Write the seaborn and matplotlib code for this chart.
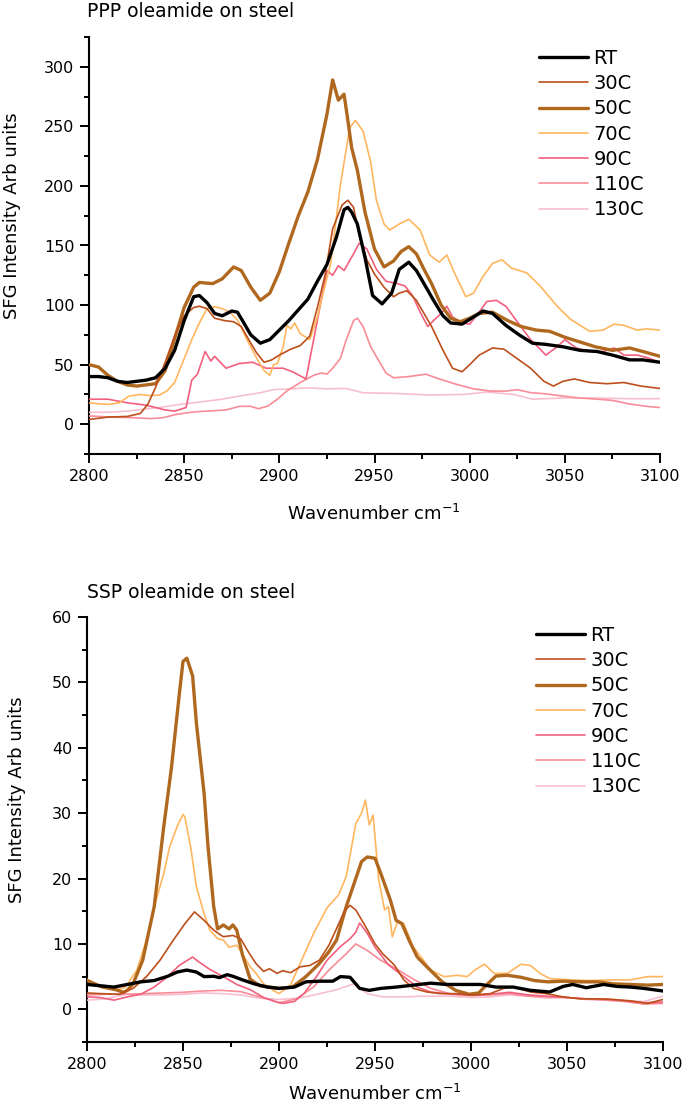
import matplotlib
matplotlib.use("Agg")
import matplotlib.pyplot as plt
import seaborn as sns
import pandas as pd
from matplotlib.ticker import MultipleLocator

sns.set_theme(style="ticks")
plt.rcParams['font.family'] = ['DejaVu Sans']

# ---------------- series meta ----------------
labels = ["RT", "30C", "50C", "70C", "90C", "110C", "130C"]

# ---------------- PPP data ----------------
ppp_rt_x = [2800, 2805, 2810, 2815, 2820, 2825, 2830, 2835, 2840, 2845, 2850, 2855, 2858, 2862, 2866, 2870, 2875, 2878,
            2881, 2885, 2890, 2895, 2900, 2905, 2910, 2915, 2920, 2925, 2930, 2934, 2936, 2938, 2941, 2945, 2949, 2954,
            2959, 2963, 2968, 2972, 2976, 2981, 2986, 2990, 2996, 3002, 3007, 3012, 3019, 3026, 3033, 3040, 3049, 3058,
            3067, 3075, 3084, 3091, 3100]
ppp_rt_y = [40, 40, 39, 36, 35, 36, 37, 39, 47, 62, 87, 107, 108, 102, 93, 91, 95, 94,
            86, 75, 68, 71, 79, 87, 96, 105, 120, 134, 157, 180, 182, 178, 168, 140, 108, 101,
            110, 130, 136, 129, 118, 104, 91, 85, 84, 90, 95, 93, 83, 75, 68, 67, 65, 62,
            61, 58, 54, 54, 52]

ppp_30_x = [2800, 2810, 2820, 2827, 2831, 2835, 2840, 2845, 2850, 2855, 2858, 2862, 2866, 2871, 2876, 2880, 2885, 2888,
            2892, 2896, 2900, 2906, 2911, 2916, 2920, 2924, 2928, 2933, 2936, 2939, 2942, 2946, 2950, 2955, 2960, 2963,
            2967, 2972, 2980, 2986, 2991, 2996, 3000, 3005, 3012, 3018, 3025, 3032, 3039, 3044, 3049, 3055, 3063, 3072,
            3081, 3090, 3100]
ppp_30_y = [4, 6, 6.5, 9, 17, 31, 52, 74, 91, 98, 99, 97, 89, 87, 86, 82, 68, 60,
            52, 54, 58, 63, 66, 74, 98, 125, 164, 184, 188, 182, 158, 138, 126, 115, 107, 110,
            112, 104, 82, 62, 47, 44, 50, 58, 64, 63, 55, 47, 36, 32, 36, 38, 35, 34,
            35, 32, 30]

ppp_50_x = [2800, 2805, 2810, 2815, 2820, 2825, 2830, 2835, 2840, 2845, 2850, 2855, 2858, 2865, 2870, 2876, 2880, 2885,
            2890, 2895, 2900, 2905, 2910, 2915, 2920, 2925, 2928, 2931, 2934, 2936, 2938, 2941, 2945, 2950, 2955, 2960,
            2964, 2968, 2972, 2976, 2980, 2985, 2990, 2995, 3000, 3005, 3012, 3020, 3027, 3035, 3042, 3050, 3058, 3066,
            3075, 3084, 3091, 3100]
ppp_50_y = [50, 48, 41, 36, 33, 32, 33, 34, 45, 72, 98, 115, 119, 118, 122, 132, 129, 115,
            104, 110, 128, 152, 175, 195, 222, 260, 289, 272, 277, 255, 232, 213, 178, 147, 132, 137,
            145, 149, 143, 130, 118, 100, 89, 86, 89, 93, 94, 87, 82, 79, 78, 73, 69, 65,
            62, 64, 61, 57]

ppp_70_x = [2800, 2806, 2811, 2816, 2821, 2827, 2832, 2837, 2841, 2845, 2849, 2854, 2858, 2862, 2866, 2870, 2874, 2878,
            2883, 2888, 2892, 2895, 2897, 2899, 2902, 2904, 2906, 2908, 2911, 2916, 2920, 2923, 2927, 2932, 2937, 2940,
            2944, 2948, 2951, 2955, 2958, 2963, 2968, 2974, 2979, 2984, 2988, 2992, 2998, 3002, 3007, 3012, 3017, 3022,
            3030, 3037, 3046, 3053, 3063, 3070, 3076, 3081, 3088, 3093, 3100]
ppp_70_y = [18, 17, 16.7, 18, 23.6, 25, 24, 24.4, 28, 35, 51, 71, 85, 97, 98.6, 97, 94, 87.5,
            71, 55.6, 45, 41, 50, 51, 65, 83, 80, 85, 76, 71, 90, 110, 135, 200, 249, 255,
            246, 220, 188, 168, 163, 168, 172, 163, 142, 136, 142, 127, 107, 110, 124, 135, 138, 131,
            127, 116, 99, 88, 78, 79, 84, 83, 79, 80, 79]

ppp_90_x = [2800, 2810, 2820, 2830, 2840, 2845, 2851, 2854, 2857, 2861, 2864, 2866, 2872, 2879, 2886, 2893, 2902, 2907,
            2914, 2919, 2925, 2928, 2931, 2934, 2939, 2942, 2946, 2951, 2956, 2962, 2966, 2970, 2974, 2978, 2981, 2985,
            2988, 2991, 2996, 3000, 3004, 3009, 3014, 3019, 3025, 3032, 3037, 3040, 3046, 3050, 3056, 3063, 3070, 3076,
            3081, 3088, 3093, 3100]
ppp_90_y = [21, 21, 18, 16, 12, 11, 14, 37, 42, 61, 53, 57, 47, 51, 52, 47, 47, 44,
            38, 79, 129, 125, 133, 129, 143, 152, 147, 130, 120, 118, 116, 108, 94, 82, 87, 93,
            99, 90, 85, 84, 92, 103, 104, 99, 86, 71, 63, 58, 65, 71, 64, 61, 61, 64,
            58, 58, 56, 52]

ppp_110_x = [2800, 2811, 2823, 2832, 2839, 2846, 2855, 2862, 2872, 2879, 2885, 2889, 2894, 2899, 2904, 2911, 2918, 2922,
             2925, 2928, 2932, 2935, 2939, 2941, 2944, 2948, 2952, 2956, 2960, 2968, 2977, 2984, 2993, 3002, 3011, 3019,
             3025, 3032, 3040, 3049, 3058, 3067, 3075, 3084, 3093, 3100]
ppp_110_y = [7, 6, 5.5, 4.7, 5.5, 8.3, 10.3, 11, 12, 15, 15, 13, 15.3, 21, 28, 35, 41, 43,
             42, 47, 55, 70, 87, 89, 82, 65, 54, 43, 39, 40, 42, 38, 33.5, 29.7, 27.8, 27.8,
             29, 26.5, 25.5, 23.6, 22, 21, 20, 17, 15, 14]

ppp_130_x = [2800, 2810, 2820, 2828, 2837, 2848, 2858, 2869, 2879, 2890, 2897, 2906, 2915, 2925, 2935, 2944, 2962, 2979,
             2997, 3009, 3023, 3033, 3049, 3067, 3084, 3100]
ppp_130_y = [10, 10, 11, 12.5, 14, 16.7, 18.6, 20.8, 23.6, 26.4, 29, 29.7, 30.5, 29.7, 30, 26.4, 25.8, 24.5,
             25, 27, 25, 21, 22, 22, 21.4, 21.4]

# ---------------- SSP data ----------------
ssp_rt_x = [2800, 2807, 2814, 2821, 2828, 2835, 2842, 2847, 2852, 2857, 2861, 2866, 2869, 2873, 2876, 2881, 2887, 2894,
            2900, 2908, 2914, 2921, 2928, 2932, 2937, 2942, 2947, 2953, 2961, 2970, 2979, 2987, 2996, 3005, 3013, 3022,
            3031, 3041, 3048, 3053, 3060, 3069, 3076, 3083, 3090, 3100]
ssp_rt_y = [3.8, 3.6, 3.4, 3.8, 4.2, 4.4, 5.05, 5.7, 6, 5.7, 5, 5.05, 4.85, 5.3, 5.05, 4.5, 3.9, 3.4,
            3.2, 3.4, 4.2, 4.3, 4.3, 5, 4.9, 3.2, 2.9, 3.2, 3.4, 3.7, 4, 3.8, 3.8, 3.8, 3.4, 3.4,
            2.9, 2.65, 3.5, 3.8, 3.3, 3.8, 3.5, 3.4, 3.2, 2.8]

ssp_30_x = [2800, 2807, 2817, 2824, 2831, 2838, 2845, 2851, 2856, 2861, 2866, 2871, 2876, 2880, 2884, 2888, 2892, 2895,
            2899, 2902, 2906, 2911, 2916, 2921, 2926, 2931, 2934, 2937, 2940, 2945, 2950, 2954, 2960, 2965, 2970, 2977,
            2984, 2993, 3001, 3010, 3017, 3022, 3031, 3039, 3048, 3057, 3066, 3074, 3083, 3092, 3100]
ssp_30_y = [2.5, 2.4, 2.3, 3.2, 5, 7.5, 10.6, 13.1, 14.9, 13.6, 12.1, 11.1, 11.3, 10.8, 8.8, 7, 5.8, 6.2,
            5.5, 5.9, 5.6, 6.5, 6.7, 7.5, 9.8, 13, 15, 15.9, 15.2, 12.7, 10, 8.5, 6.8, 4.5, 3.2, 2.65,
            2.4, 2.4, 2.15, 2.4, 3.2, 3.4, 2.65, 2.4, 1.9, 1.6, 1.6, 1.5, 1.3, 0.9, 1.5]

ssp_50_x = [2800, 2808, 2815, 2819, 2821, 2824, 2829, 2835, 2840, 2844, 2848, 2850, 2852, 2855, 2857, 2861, 2863, 2866,
            2868, 2871, 2874, 2876, 2878, 2881, 2885, 2890, 2895, 2900, 2907, 2914, 2921, 2926, 2930, 2935, 2940, 2943,
            2946, 2950, 2953, 2958, 2961, 2964, 2968, 2972, 2977, 2985, 2992, 2999, 3004, 3008, 3013, 3019, 3026, 3033,
            3040, 3048, 3057, 3066, 3074, 3083, 3092, 3100]
ssp_50_y = [4.4, 3.4, 3.0, 2.6, 2.9, 3.9, 7.5, 15.7, 28, 37, 48, 53.2, 53.7, 51, 43.7, 33, 25, 15.7,
            12.3, 12.9, 12.3, 12.9, 12.1, 8.3, 4.6, 3.6, 3.4, 3.2, 3.4, 5, 7, 8.8, 10.6, 15.7, 20, 22.6,
            23.3, 23.1, 20.8, 16.7, 13.6, 13.1, 10.4, 8, 6.5, 4.2, 2.9, 2.3, 2.5, 3.7, 5.1, 5.2, 4.9, 4.4,
            4.2, 4.3, 4.2, 4.2, 3.9, 3.8, 3.7, 3.8]

ssp_70_x = [2800, 2808, 2815, 2820, 2826, 2831, 2836, 2840, 2843, 2847, 2850, 2851, 2854, 2857, 2861, 2864, 2868, 2871,
            2874, 2878, 2881, 2885, 2888, 2892, 2897, 2900, 2906, 2911, 2918, 2925, 2931, 2935, 2940, 2943, 2945, 2947,
            2949, 2952, 2955, 2957, 2959, 2962, 2965, 2970, 2974, 2979, 2986, 2993, 2998, 3002, 3007, 3012, 3019, 3026,
            3031, 3036, 3041, 3052, 3062, 3072, 3083, 3092, 3100]
ssp_70_y = [4.6, 3.4, 2.9, 3.4, 6, 10.6, 16.7, 20.8, 24.8, 28, 29.8, 29.4, 24.8, 18.7, 14.6, 12.1, 10.8, 10.6,
            9.5, 9.8, 8.4, 6.5, 5.5, 3.9, 2.9, 2.4, 3.7, 7, 11.6, 15.5, 17.5, 20.3, 28.4, 30, 32, 28.2,
            29.7, 19.7, 15.2, 15.7, 11.1, 13.6, 13.1, 9.5, 8, 6, 5, 5.2, 5, 6, 6.9, 5.5, 5.5, 6.9,
            6.7, 5.5, 4.7, 4.5, 4.4, 4.5, 4.5, 5, 5]

ssp_90_x = [2800, 2807, 2814, 2821, 2828, 2835, 2842, 2848, 2855, 2858, 2864, 2871, 2878, 2885, 2892, 2899, 2902, 2908,
            2913, 2920, 2925, 2932, 2937, 2940, 2942, 2946, 2950, 2957, 2965, 2972, 2979, 2990, 3000, 3010, 3020, 3030,
            3040, 3050, 3060, 3070, 3080, 3090, 3100]
ssp_90_y = [1.9, 1.8, 1.4, 1.9, 2.3, 3.4, 5, 6.7, 8, 7.3, 6.1, 5, 3.8, 3.0, 1.8, 1.1, 0.9, 1.2,
            2.4, 5.2, 7.5, 9.6, 10.8, 11.8, 13.2, 11.6, 9.5, 6.8, 5, 3.4, 2.65, 2.3, 2.2, 2.3, 2.6, 2.2,
            2.0, 1.8, 1.6, 1.6, 1.3, 1.0, 1.1]

ssp_110_x = [2800, 2810, 2820, 2830, 2840, 2850, 2860, 2870, 2880, 2890, 2895, 2900, 2909, 2918, 2926, 2935, 2940, 2946,
             2953, 2961, 2970, 2979, 2990, 3000, 3010, 3020, 3030, 3040, 3050, 3060, 3070, 3080, 3090, 3100]
ssp_110_y = [2.2, 2.3, 2.3, 2.4, 2.5, 2.6, 2.8, 2.9, 2.7, 1.9, 1.5, 1.0, 1.6, 3.4, 6, 8.5, 10, 9,
             7.5, 6.2, 4.6, 3.2, 2.3, 2.1, 2.2, 2.4, 2.0, 1.9, 1.8, 1.6, 1.4, 1.2, 0.8, 0.9]

ssp_130_x = [2800, 2810, 2820, 2830, 2840, 2850, 2860, 2870, 2880, 2890, 2900, 2910, 2920, 2930, 2939, 2946, 2954, 2965,
             2975, 2990, 3000, 3010, 3020, 3030, 3040, 3050, 3060, 3070, 3080, 3090, 3100]
ssp_130_y = [1.4, 1.6, 2.3, 2.2, 2.2, 2.3, 2.5, 2.4, 2.2, 1.7, 1.5, 1.7, 2.3, 3.0, 3.9, 2.4, 1.9, 1.9,
             2.0, 2.0, 1.8, 1.9, 2.2, 2.0, 1.7, 1.8, 1.5, 1.4, 1.3, 1.2, 2.0]

x_ticks = [2800, 2850, 2900, 2950, 3000, 3050, 3100]
ppp_yticks = [0, 50, 100, 150, 200, 250, 300]
ssp_yticks = [0, 10, 20, 30, 40, 50, 60]

# ---------------- styles ----------------
colors = ["#000000", "#BD4F1B", "#B0681F", "#FFB65E", "#F2607E", "#F98C98", "#F8BFD0"]
widths = [2.4, 1.2, 2.4, 1.2, 1.2, 1.2, 1.2]

ppp = [(ppp_rt_x, ppp_rt_y), (ppp_30_x, ppp_30_y), (ppp_50_x, ppp_50_y), (ppp_70_x, ppp_70_y),
       (ppp_90_x, ppp_90_y), (ppp_110_x, ppp_110_y), (ppp_130_x, ppp_130_y)]
ssp = [(ssp_rt_x, ssp_rt_y), (ssp_30_x, ssp_30_y), (ssp_50_x, ssp_50_y), (ssp_70_x, ssp_70_y),
       (ssp_90_x, ssp_90_y), (ssp_110_x, ssp_110_y), (ssp_130_x, ssp_130_y)]

W, H = 685, 1115
fig = plt.figure(figsize=(W / 100, H / 100), dpi=100)
fig.patch.set_facecolor("white")

def px(x0, y0, x1, y1):
    return [x0 / W, 1 - y1 / H, (x1 - x0) / W, (y1 - y0) / H]

ax1 = fig.add_axes(px(89, 37, 660, 454))
ax2 = fig.add_axes(px(87, 617, 663, 1042))


def draw(ax, series, ylim, yticks, yminor, legend_anchor):
    for i in range(len(labels) - 1, -1, -1):
        xs, ys = series[i]
        df = pd.DataFrame({"x": xs, "y": ys})
        sns.lineplot(data=df, x="x", y="y", ax=ax, color=colors[i], linewidth=widths[i],
                     label=labels[i], zorder=10 - i, estimator=None, sort=False)
    ax.set_xlim(2800, 3100)
    ax.set_ylim(*ylim)
    ax.set_xticks(x_ticks)
    ax.set_yticks(yticks)
    ax.xaxis.set_minor_locator(MultipleLocator(25))
    ax.yaxis.set_minor_locator(MultipleLocator(yminor))
    ax.set_xlabel("")
    ax.set_ylabel("")
    ax.set_facecolor("white")
    for s in ["top", "right"]:
        ax.spines[s].set_visible(False)
    for s in ["left", "bottom"]:
        ax.spines[s].set_color("black")
        ax.spines[s].set_linewidth(1.5)
    ax.tick_params(which="major", direction="out", length=6.5, width=1.4, color="black",
                   labelsize=11.5, pad=4, labelcolor="black")
    ax.tick_params(which="minor", direction="out", length=3.5, width=1.4, color="black")
    ax.grid(False)
    h, l = ax.get_legend_handles_labels()
    order = [l.index(n) for n in labels]
    leg = ax.legend([h[k] for k in order], [l[k] for k in order], loc="upper left",
                    bbox_to_anchor=legend_anchor, bbox_transform=fig.transFigure,
                    frameon=False, fontsize=14, handlelength=2.5, handletextpad=0.3,
                    labelspacing=0.32, borderpad=0, borderaxespad=0)
    for t in leg.get_texts():
        t.set_color("black")


draw(ax1, ppp, (-25, 325), ppp_yticks, 25, (539 / W, 1 - 49 / H))
draw(ax2, ssp, (-5, 60), ssp_yticks, 5, (536 / W, 1 - 626 / H))

fig.text(87 / W, 1 - 17 / H, "PPP oleamide on steel", fontsize=13.5, ha="left", va="baseline", color="black")
fig.text(87 / W, 1 - 598 / H, "SSP oleamide on steel", fontsize=13.5, ha="left", va="baseline", color="black")

fig.text(12 / W, 1 - 216 / H, "SFG Intensity Arb units", rotation=90, fontsize=13, ha="center", va="center", color="black")
fig.text(17 / W, 1 - 800 / H, "SFG Intensity Arb units", rotation=90, fontsize=13, ha="center", va="center", color="black")

fig.text(374 / W, 1 - 520 / H, r"Wavenumber cm$^{-1}$", fontsize=13, ha="center", va="baseline", color="black")
fig.text(375 / W, 1 - 1100 / H, r"Wavenumber cm$^{-1}$", fontsize=13, ha="center", va="baseline", color="black")

fig.savefig("out.png", dpi=100, facecolor="white")
